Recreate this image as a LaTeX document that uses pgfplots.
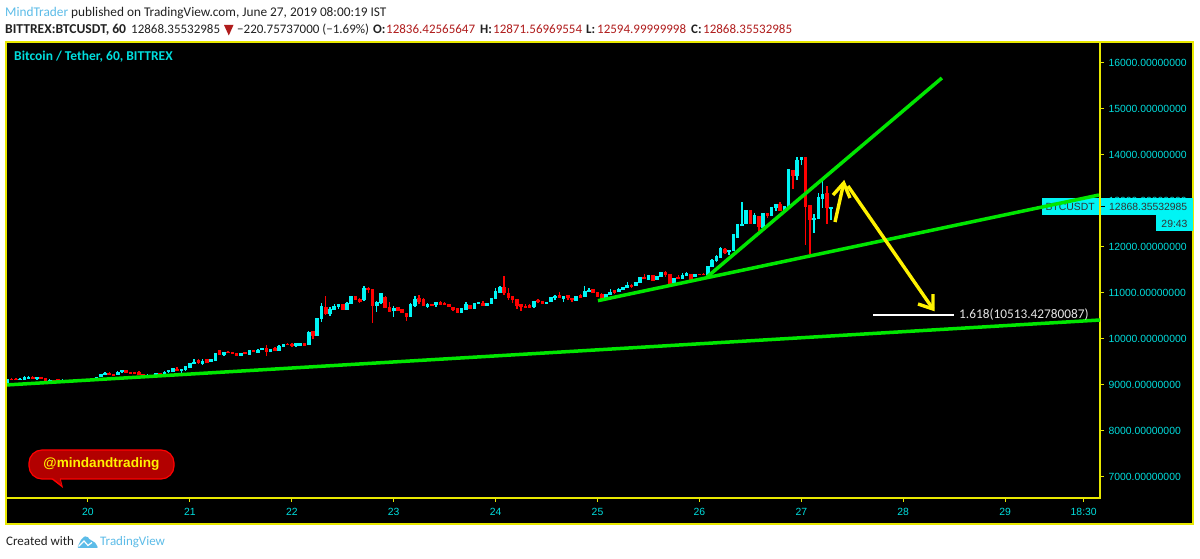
\documentclass[border=0pt]{standalone}
\usepackage{fontspec}
\setmainfont{Carlito}
\newfontfamily\arialfont{Liberation Sans}
\usepackage{pgfplots}
\usepackage{pgfplotstable}
\pgfplotsset{compat=1.18}

\definecolor{upc}{HTML}{00F5F5}
\definecolor{dnc}{HTML}{FF0000}
\definecolor{frame}{HTML}{E8E800}
\definecolor{trend}{HTML}{00E600}
\definecolor{ticktxt}{HTML}{00DEDE}
\definecolor{logoblue}{HTML}{5CBCE8}
\definecolor{headred}{HTML}{B01C1C}
\definecolor{headtxt}{HTML}{222222}

% t = hours since 19 June 00:00, then open high low close
\pgfplotstableread{
t o h l c
5 9040 9125 9035 9120
8 9110 9160 9105 9135
9 9110 9195 9105 9180
10 9135 9190 9130 9165
12 9140 9180 9110 9175
15 9065 9130 9060 9110
18 9065 9125 9060 9095
20 9070 9115 9065 9100
21 9072 9115 9068 9110
22 9080 9130 9075 9110
24 9086 9135 9085 9130
25 9100 9150 9095 9130
26 9100 9180 9095 9175
27 9175 9245 9170 9240
28 9220 9285 9215 9268
31 9217 9295 9213 9290
32 9275 9325 9270 9319
38 9180 9240 9178 9217
39 9180 9220 9175 9217
40 9188 9258 9185 9253
42 9217 9295 9215 9290
43 9275 9323 9270 9319
44 9290 9370 9288 9362
46 9304 9345 9268 9340
47 9319 9415 9315 9413
48 9376 9473 9374 9471
49 9463 9558 9460 9507
51 9449 9558 9445 9521
53 9500 9560 9498 9558
54 9521 9705 9519 9703
56 9652 9720 9630 9717
60 9630 9690 9628 9688
62 9659 9760 9655 9753
64 9703 9790 9700 9768
65 9761 9806 9759 9804
67 9710 9792 9708 9790
69 9739 9865 9737 9855
70 9826 9900 9824 9898
73 9848 9910 9826 9906
74 9855 9908 9853 9906
76 9870 10170 9868 10152
78 10065 10460 10060 10457
79 10427 10775 10376 10717
81 10535 10695 10499 10659
82 10630 10753 10625 10717
83 10695 10760 10644 10753
85 10630 10800 10628 10789
86 10753 10936 10750 10934
89 10840 11159 10835 11115
92 10717 10826 10594 10804
93 10775 11000 10770 10992
96 10608 10717 10485 10680
100 10485 10775 10483 10753
101 10710 10934 10705 10876
104 10695 10775 10666 10767
106 10731 10806 10695 10804
112 10572 10682 10570 10680
113 10622 10804 10620 10753
115 10659 10791 10657 10789
116 10760 10806 10758 10804
118 10717 10791 10715 10789
119 10767 10885 10765 10883
120 10876 11101 10874 11043
121 11007 11145 11005 11137
129 10695 10827 10666 10825
132 10753 10813 10751 10811
133 10811 10914 10809 10912
134 10883 10956 10855 10941
136 10869 10936 10811 10934
139 10825 10936 10823 10934
141 10912 11145 10910 11043
142 11021 11101 11019 11065
146 10862 10973 10860 10971
147 10956 11079 10954 11029
149 11014 11115 11012 11079
150 11057 11139 11055 11137
151 11101 11239 11099 11174
153 11159 11241 11157 11239
154 11224 11357 11222 11355
156 11289 11393 11287 11391
158 11282 11371 11280 11369
159 11347 11465 11345 11463
162 11202 11335 11200 11333
164 11297 11442 11295 11384
165 11369 11463 11367 11442
167 11347 11422 11345 11420
170 11384 11581 11382 11579
171 11565 11732 11563 11717
172 11695 11826 11680 11804
173 11767 12000 11753 11970
175 11891 11935 11818 11927
176 11912 12277 11910 12275
177 12202 12500 12200 12492
178 12456 12978 12450 12507
179 12507 12812 12505 12797
181 12507 12732 12505 12695
183 12420 12734 12418 12732
185 12674 12871 12672 12869
186 12840 12942 12782 12942
188 12797 12886 12795 12884
189 12869 13691 12867 13689
191 13544 13957 13449 13892
192 13892 13965 13776 13957
195 12594 12710 12311 12623
196 12616 13181 12614 13094
197 13036 13435 12855 13160
199 12836 12872 12595 12868
}\upbars

\pgfplotstableread{
t o h l c
6 9130 9150 9100 9110
7 9130 9150 9100 9110
11 9165 9195 9135 9140
13 9175 9180 9125 9130
14 9150 9155 9060 9065
16 9108 9110 9090 9095
17 9130 9135 9060 9065
19 9110 9112 9063 9065
23 9108 9110 9093 9095
29 9268 9285 9215 9217
30 9230 9232 9193 9195
33 9319 9322 9258 9260
34 9283 9290 9258 9260
35 9275 9277 9238 9240
36 9290 9295 9215 9217
37 9239 9240 9178 9180
41 9253 9255 9186 9188
45 9348 9390 9315 9319
50 9543 9560 9460 9470
52 9558 9560 9480 9485
55 9753 9758 9650 9652
57 9724 9740 9695 9703
58 9717 9719 9686 9688
59 9703 9705 9628 9630
61 9710 9712 9679 9681
63 9753 9755 9708 9710
66 9811 9870 9630 9724
68 9797 9826 9737 9739
71 9898 9905 9868 9870
72 9898 9913 9826 9848
75 9906 9908 9846 9848
77 10174 10180 10006 10065
80 10695 10934 10530 10550
84 10753 10755 10628 10630
87 10934 10936 10845 10847
88 10876 10898 10790 10804
90 11115 11137 11007 11057
91 11079 11090 10340 10717
94 10920 10935 10664 10666
95 10695 10804 10590 10594
97 10695 10697 10606 10608
98 10644 10646 10555 10557
99 10572 10575 10390 10485
102 10883 10956 10767 10811
103 10876 10890 10708 10710
105 10767 10769 10715 10717
107 10811 10825 10729 10731
108 10789 10811 10729 10731
109 10753 10755 10693 10695
110 10695 10697 10608 10622
111 10666 10668 10570 10572
114 10731 10733 10657 10659
117 10789 10825 10715 10717
122 11137 11369 10956 11007
123 11007 11115 10840 10883
124 10934 10936 10789 10847
125 10869 10871 10659 10717
126 10753 10767 10608 10695
127 10717 10767 10670 10680
128 10731 10753 10678 10680
130 10847 10869 10775 10804
131 10825 10827 10751 10753
135 10956 11014 10896 10898
137 10949 10963 10855 10883
138 10898 10900 10811 10840
140 10956 10970 10896 10898
143 11079 11081 11005 11007
144 11021 11030 10910 10912
145 10985 10995 10862 10876
148 11057 11060 10985 11007
152 11166 11202 11115 11130
155 11347 11405 11295 11297
157 11391 11393 11258 11260
160 11456 11478 11350 11391
161 11405 11420 11170 11188
163 11355 11384 11309 11311
166 11405 11407 11273 11275
168 11420 11422 11389 11391
169 11420 11430 11389 11391
174 11963 11985 11840 11876
180 12797 12799 12505 12507
182 12666 12668 12347 12434
184 12732 12734 12637 12674
187 12942 12970 12780 12782
190 13681 13683 13254 13544
193 13957 13959 12043 12877
194 12906 12908 11840 12594
198 13181 13326 12492 12840
}\dnbars

\newcommand{\hf}{\fontsize{13}{15}\selectfont}
\newcommand{\scalef}{\arialfont\fontsize{10.4}{12.5}\selectfont}

\begin{document}
\begin{tikzpicture}[x=1pt,y=1pt]
\useasboundingbox (0,0) rectangle (1200,559);
\fill[white] (0,0) rectangle (1200,559);
% whole chart panel is black
\fill[black] (6,35) rectangle (1193,517);

\begin{axis}[
    at={(6pt,61pt)}, anchor=south west,
    scale only axis, width=1094pt, height=456pt,
    xmin=4.69, xmax=262.34, ymin=6543.5, ymax=16456.5,
    scaled x ticks=false, scaled y ticks=false,
    axis background/.style={fill=black},
    axis line style={frame, line width=1.2pt},
    tick style={frame, line width=1pt},
    major tick length=4pt,
    tick align=outside,
    xtick pos=bottom, ytick pos=right,
    xtick={24,48,72,96,120,144,168,192,216,240,258.5},
    xticklabels={20,21,22,23,24,25,26,27,28,29,18:30},
    ytick={7000,8000,9000,10000,11000,12000,13000,14000,15000,16000},
    yticklabels={7000.00000000,8000.00000000,9000.00000000,10000.00000000,11000.00000000,12000.00000000,13000.00000000,14000.00000000,15000.00000000,16000.00000000},
    tick label style={text=ticktxt, font=\scalef},
    yticklabel style={anchor=west, xshift=1pt},
    xticklabel style={anchor=base, yshift=-14pt},
]
% wicks
\addplot[draw=none, forget plot, error bars/.cd, y dir=both, y explicit, error mark=none,
  error bar style={draw=upc, line width=1.4pt}]
  table[x=t, y expr=(\thisrow{h}+\thisrow{l})/2, y error expr=(\thisrow{h}-\thisrow{l})/2] {\upbars};
\addplot[draw=none, forget plot, error bars/.cd, y dir=both, y explicit, error mark=none,
  error bar style={draw=dnc, line width=1.4pt}]
  table[x=t, y expr=(\thisrow{h}+\thisrow{l})/2, y error expr=(\thisrow{h}-\thisrow{l})/2] {\dnbars};
% bodies
\addplot[draw=none, forget plot, error bars/.cd, y dir=both, y explicit, error mark=none,
  error bar style={draw=upc, line width=3.6pt}]
  table[x=t, y expr=(\thisrow{o}+\thisrow{c})/2, y error expr=abs(\thisrow{c}-\thisrow{o})/2] {\upbars};
\addplot[draw=none, forget plot, error bars/.cd, y dir=both, y explicit, error mark=none,
  error bar style={draw=dnc, line width=3.6pt}]
  table[x=t, y expr=(\thisrow{o}+\thisrow{c})/2, y error expr=abs(\thisrow{o}-\thisrow{c})/2] {\dnbars};

% symbol tag, green line runs over it
\fill[upc] (axis cs:248.7,12696) rectangle (axis cs:262.34,13065);
\node[anchor=center, inner sep=0, text=black!80, font=\scalef] at (axis cs:255.3,12868) {BTCUSDT};

% trend lines
\addplot[trend, line width=3.5pt] coordinates {(4.69,9000) (262.34,10413)};
\addplot[trend, line width=3.5pt] coordinates {(144.1,10833) (262.1,13130)};
\addplot[trend, line width=3.5pt] coordinates {(169.8,11348) (225.1,15674)};

% fib level
\addplot[white, line width=2pt] coordinates {(208.9,10513.43) (228,10513.43)};

% yellow arrows
\addplot[yellow, line width=3.4pt] coordinates {(199.93,12543) (201.98,13391)};
\addplot[yellow, line width=3.4pt] coordinates {(199.46,13130) (201.98,13391) (203.46,13065)};
\addplot[yellow, line width=3.4pt] coordinates {(202.99,13326) (223.01,10652)};
\addplot[yellow, line width=3.4pt] coordinates {(219.48,10761) (223.01,10652) (223.01,10978)};
\end{axis}

% outer frame
\draw[frame, line width=1.3pt] (6,35) rectangle (1193,517);

% price tag on the right scale
\fill[upc] (1100,344.3) rectangle (1193,361);
\draw[frame, line width=1.2pt] (1100,344.3) -- (1100,361);
\draw[black, line width=.8pt] (1101,352.5) -- (1105,352.5);
\node[anchor=base west, inner sep=0, text=black!80, font=\scalef] at (1109,348.6) {12868.35532985};
\fill[upc] (1156,327.5) rectangle (1193,344.3);
\node[anchor=center, inner sep=0, text=black!80, font=\scalef] at (1174.5,335.5) {29:43};

% level text
\node[anchor=base west, inner sep=0, text=white!90!black, font=\fontsize{13.3}{15}\selectfont] at (959,240) {1.618(10513.42780087)};

% chart title
\node[anchor=base west, inner sep=0, text=ticktxt, font=\fontsize{13.5}{15}\bfseries] at (14,498) {Bitcoin / Tether, 60, BITTREX};

% header
\node[anchor=base west, inner sep=0, font=\fontsize{13.3}{15}\selectfont, text=headtxt] at (5,542.5) {\textcolor{logoblue}{MindTrader} published on TradingView.com, June 27, 2019 08:00:19 IST};
\node[anchor=base west, inner sep=0, font=\fontsize{13.6}{15}\bfseries, text=headtxt] at (5,525) {BITTREX:BTCUSDT, 60};
\node[anchor=base west, inner sep=0, font=\hf, text=headtxt] at (131,525) {12868.35532985};
\fill[headred] (224,534) -- (233.5,534) -- (228.8,523.5) -- cycle;
\node[anchor=base west, inner sep=0, font=\hf, text=headtxt] at (237,525) {\char"2212 220.75737000 (\char"2212 1.69\%)};
\node[anchor=base west, inner sep=0, font=\hf\bfseries, text=headtxt] at (373,525) {O:};
\node[anchor=base west, inner sep=0, font=\hf, text=headred] at (386,525) {12836.42565647};
\node[anchor=base west, inner sep=0, font=\hf\bfseries, text=headtxt] at (480,525) {H:};
\node[anchor=base west, inner sep=0, font=\hf, text=headred] at (493,525) {12871.56969554};
\node[anchor=base west, inner sep=0, font=\hf\bfseries, text=headtxt] at (586,525) {L:};
\node[anchor=base west, inner sep=0, font=\hf, text=headred] at (597,525) {12594.99999998};
\node[anchor=base west, inner sep=0, font=\hf\bfseries, text=headtxt] at (691,525) {C:};
\node[anchor=base west, inner sep=0, font=\hf, text=headred] at (703,525) {12868.35532985};

% speech bubble
\fill[dnc] (50,81) -- (63,71) -- (60.5,81) -- cycle;
\draw[dnc, fill=red!70!black, line width=1.2pt, rounded corners=13pt]
  (29,80) rectangle (174,109);
\fill[red!70!black] (52,81.5) -- (61.5,74) -- (59.5,81.5) -- cycle;
\node[anchor=center, inner sep=0, text=yellow, font=\arialfont\bfseries\fontsize{13.6}{15}\selectfont] at (101.5,95) {@mindandtrading};

% footer
\node[anchor=base west, inner sep=0, font=\hf, text=headtxt] at (6,13) {Created with};
\fill[logoblue, rounded corners=2pt] (77,11) -- (82,21) -- (87,23.5) -- (90,18.5) -- (94,18) -- (98.5,11) -- cycle;
\draw[white, line width=1.2pt] (78.5,12.5) -- (84,18) -- (88,13.5) -- (92,16.5);
\node[anchor=base west, inner sep=0, font=\hf, text=logoblue] at (100,13) {TradingView};
\end{tikzpicture}
\end{document}
